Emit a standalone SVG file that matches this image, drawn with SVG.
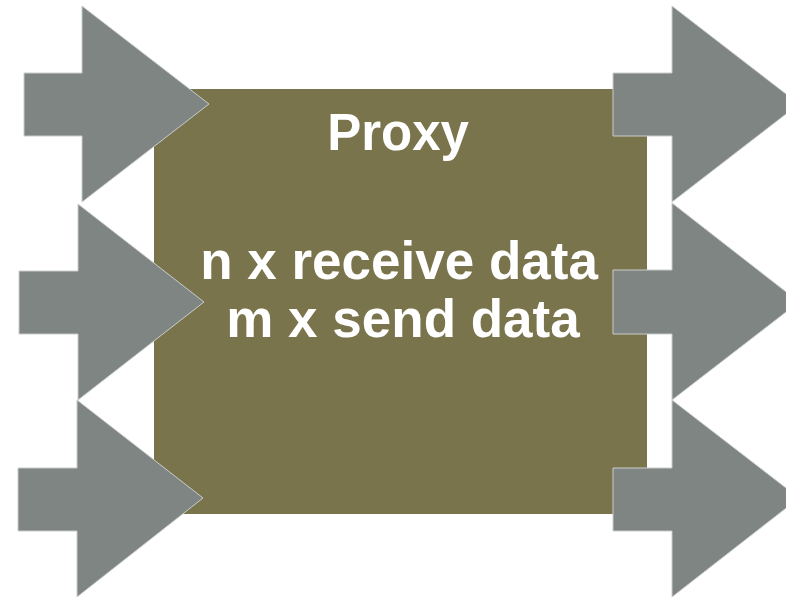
<svg xmlns="http://www.w3.org/2000/svg" width="786" height="597" viewBox="0 0 786 597">
  <style>
    .box { fill: #79744C; }
    .arrow { fill: #7F8583; stroke: #C9CDCB; stroke-width: 1; stroke-linejoin: miter; }
    .label { fill: #FFFFFF; font-family: "Liberation Sans", Arial, Helvetica, sans-serif; font-weight: bold; text-anchor: middle; }
  </style>
  <rect width="786" height="597" fill="#FFFFFF"/>
  <g id="proxy">
    <rect class="box" x="154" y="89" width="493" height="425"/>
  </g>
  <g id="arrows">
    <g id="in1"><path class="arrow" d="M24,73 H82 V6 L209,104 L82,202 V136 H24 Z"/></g>
    <g id="in2"><path class="arrow" d="M19,271 H78 V204 L204,302 L78,400 V334 H19 Z"/></g>
    <g id="in3"><path class="arrow" d="M18,468 H77 V400 L203,498 L77,597 V531 H18 Z"/></g>
    <g id="out1"><path class="arrow" d="M613,73 H672 V6 L799,104 L672,202 V136 H613 Z"/></g>
    <g id="out2"><path class="arrow" d="M613,270 H672 V203 L799,302 L672,400 V334 H613 Z"/></g>
    <g id="out3"><path class="arrow" d="M613,468 H672 V400 L799,498 L672,597 V531 H613 Z"/></g>
  </g>
  <g id="proxy-label">
    <text class="label" x="398" y="150" font-size="51">Proxy</text>
    <text class="label" x="399" y="279" font-size="53">n x receive data</text>
    <text class="label" x="403" y="337" font-size="53">m x send data</text>
  </g>
</svg>
